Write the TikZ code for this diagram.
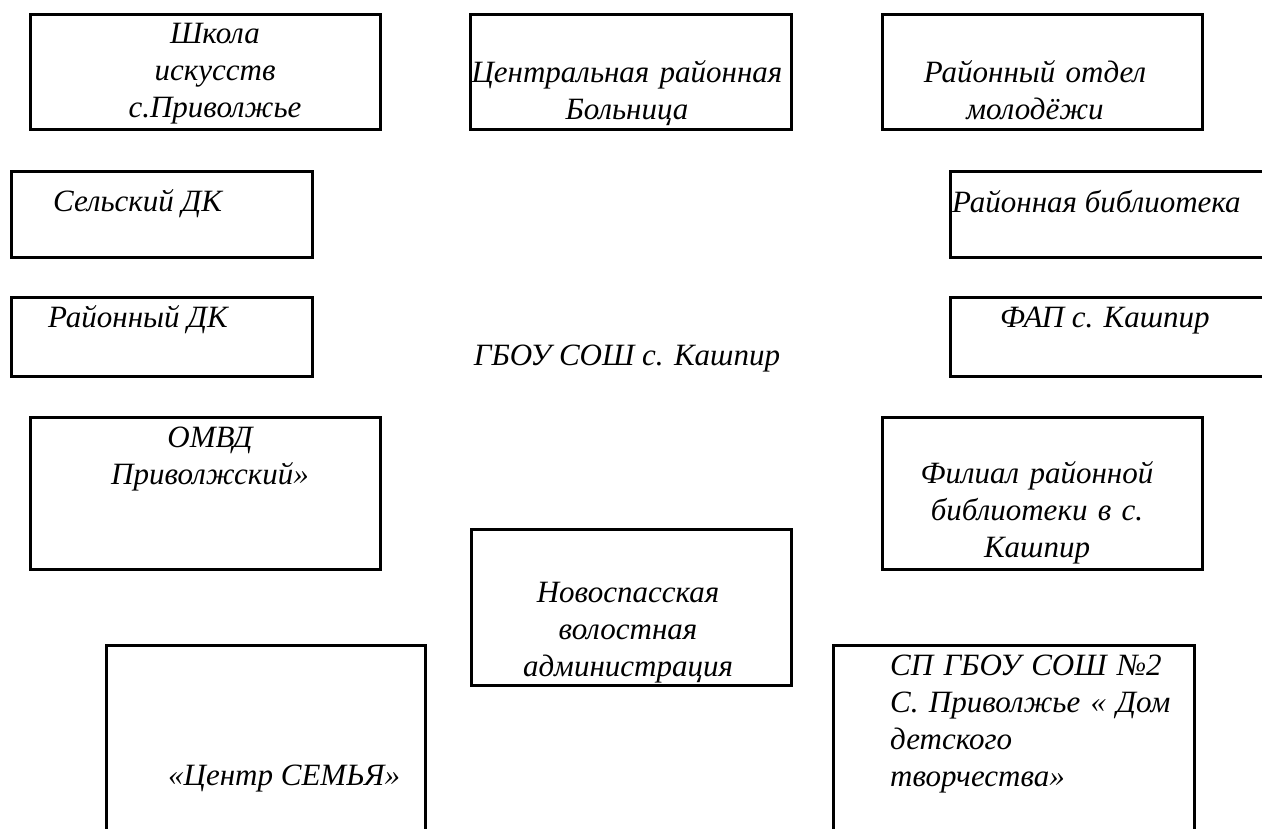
\documentclass[tikz,border=0pt]{standalone}
\usepackage{fontspec}
\setmainfont{Liberation Serif}
\usetikzlibrary{positioning}

\begin{document}
\begin{tikzpicture}[x=1pt,y=-1pt,
    orgbox/.style={draw,line width=3pt,inner sep=0pt},
    lbl/.style={font=\fontsize{31}{37}\selectfont\itshape,inner sep=0pt},
    mlbl/.style={lbl,align=center,text width=#1}]
  \clip (0,0) rectangle (1262,828);
  \fill[white] (0,0) rectangle (1262,828);
  % boxes, top row
  \node[orgbox,minimum width=350,minimum height=115] (shkola) at (205,71.5) {};
  \node[orgbox,minimum width=321,minimum height=115] (bolnica) at (630.5,71.5) {};
  \node[orgbox,minimum width=320,minimum height=115] (molod) at (1042,71.5) {};
  % side boxes
  \node[orgbox,minimum width=301,minimum height=86] (seldk) at (161.5,214) {};
  \node[orgbox,minimum width=350,minimum height=86] (rbibl) at (1125,214) {};
  \node[orgbox,minimum width=301,minimum height=79] (rdk) at (161.5,336.5) {};
  \node[orgbox,minimum width=350,minimum height=79] (fap) at (1125,336.5) {};
  \node[orgbox,minimum width=350,minimum height=152] (omvd) at (205,493) {};
  \node[orgbox,minimum width=320,minimum height=152] (filial) at (1042,493) {};
  % bottom row
  \node[orgbox,minimum width=320,minimum height=156] (admin) at (631,607) {};
  \node[orgbox,minimum width=319,minimum height=255] (semya) at (265.5,772.5) {};
  \node[orgbox,minimum width=361,minimum height=255] (ddt) at (1013.5,772.5) {};
  % texts
  \node[mlbl=340pt,anchor=base] (tshkola) at (215,43) {Школа\\искусств\\с.Приволжье};
  \node[mlbl=330pt,anchor=base] (tbolnica) at (627,82) {Центральная районная\\Больница};
  \node[mlbl=320pt,anchor=base] (tmolod) at (1035,82) {Районный отдел\\молодёжи};
  \node[lbl,anchor=base west] (tseldk) at (53,211) {Сельский ДК};
  \node[lbl,anchor=base west] (trbibl) at (952,212) {Районная библиотека};
  \node[lbl,anchor=base west] (trdk) at (48,327) {Районный ДК};
  \node[lbl,anchor=base west] (tfap) at (1000,327) {ФАП с. Кашпир};
  \node[lbl,anchor=base] (gbou) at (627,365) {ГБОУ СОШ с. Кашпир};
  \node[mlbl=340pt,anchor=base] (tomvd) at (210,447) {ОМВД\\Приволжский»};
  \node[mlbl=320pt,anchor=base] (tfilial) at (1037,483) {Филиал районной\\библиотеки в с.\\Кашпир};
  \node[mlbl=320pt,anchor=base] (tadmin) at (628,602) {Новоспасская\\волостная\\администрация};
  \node[lbl,anchor=base west] (tsemya) at (168,785) {«Центр СЕМЬЯ»};
  \node[mlbl=320pt,align=left,anchor=base west] (tddt) at (890,675)
    {СП ГБОУ СОШ №2\\С. Приволжье « Дом\\детского\\творчества»};
\end{tikzpicture}
\end{document}
